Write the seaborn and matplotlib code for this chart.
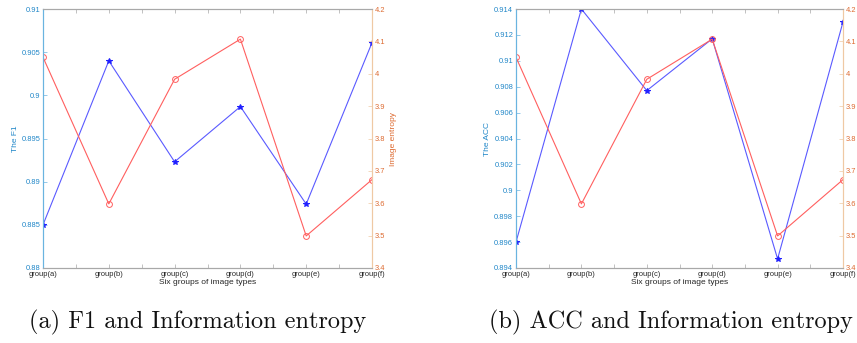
import matplotlib
matplotlib.use("Agg")
import matplotlib.pyplot as plt
import seaborn as sns
import numpy as np
import pandas as pd

groups = ["group(a)", "group(b)", "group(c)", "group(d)", "group(e)", "group(f)"]
f1 = [0.8850, 0.9040, 0.8923, 0.8987, 0.8874, 0.9061]
acc = [0.8960, 0.9140, 0.9077, 0.9117, 0.8947, 0.9130]
entropy = [4.051, 3.598, 3.983, 4.107, 3.499, 3.673]
captions = ["(a) F1 and Information entropy", "(b) ACC and Information entropy"]
left_labels = ["The F1", "The ACC"]
right_label = "Image entropy"
xlabel = "Six groups of image types"

sns.set_theme(style="white")
plt.rcParams["font.family"] = ["Liberation Sans", "DejaVu Sans"]

BLUE_TXT = "#1f86c8"
BLUE_SP = "#6ab4e0"
ORG_TXT = "#dd6a30"
ORG_SP = "#efc9a4"
GRAY = "#a8a8a8"
LINE_B = "#5a5aff"
LINE_R = "#ff5f5f"

fig = plt.figure(figsize=(8.57, 3.43), dpi=100)
positions = [(43 / 857, 0.2187, 329 / 857, 0.755), (516 / 857, 0.2187, 327 / 857, 0.755)]
caption_x = [198 / 857, 671 / 857]
lefts = [f1, acc]
ylims = [(0.88, 0.91), (0.894, 0.914)]
yticks_l = [np.arange(0.88, 0.9101, 0.005), np.arange(0.894, 0.91401, 0.002)]
x = np.arange(1, 7)


def fmt(v, d):
    return (("%." + str(d) + "f") % v).rstrip("0").rstrip(".")


for i in range(2):
    ax = fig.add_axes(positions[i])
    ax2 = ax.twinx()
    df = pd.DataFrame({"x": x, "left": lefts[i], "ent": entropy})
    sns.lineplot(data=df, x="x", y="left", ax=ax, color=LINE_B, lw=0.8,
                 marker="*", markersize=4, markeredgecolor="#2020ff", markerfacecolor="#2020ff")
    sns.lineplot(data=df, x="x", y="ent", ax=ax2, color=LINE_R, lw=0.8,
                 marker="o", markersize=4.2, markerfacecolor="none", markeredgecolor=LINE_R,
                 markeredgewidth=0.7)
    ax.set_xlim(1, 6)
    ax.set_ylim(*ylims[i])
    ax2.set_ylim(3.4, 4.2)
    ax.set_yticks(yticks_l[i])
    ax.set_yticklabels([fmt(v, 3) for v in yticks_l[i]])
    et = np.arange(3.4, 4.201, 0.1)
    ax2.set_yticks(et)
    ax2.set_yticklabels([fmt(v, 1) for v in et])
    xt = np.arange(1, 6.01, 0.5)
    ax.set_xticks(xt)
    ax.set_xticklabels([groups[int(v) - 1] if abs(v - round(v)) < 1e-6 else "" for v in xt])
    ax.set_xlabel(xlabel, fontsize=6, color="#262626", labelpad=1)
    ax.set_ylabel(left_labels[i], fontsize=6, color=BLUE_TXT, labelpad=2)
    ax2.set_ylabel(right_label, fontsize=6, color=ORG_TXT, labelpad=3)
    ax.tick_params(axis="x", direction="in", length=3, width=0.5, colors=GRAY,
                   labelcolor="#262626", labelsize=5.4, pad=2, top=True, bottom=True)
    ax.tick_params(axis="y", direction="in", length=3, width=0.5, colors=BLUE_SP,
                   labelcolor=BLUE_TXT, labelsize=5.4, pad=2, left=True, right=False)
    ax2.tick_params(axis="y", direction="in", length=3, width=0.5, colors=ORG_SP,
                    labelcolor=ORG_TXT, labelsize=5.4, pad=2, right=True, left=False)
    for a in (ax, ax2):
        for s in ("top", "bottom"):
            a.spines[s].set_color(GRAY)
            a.spines[s].set_linewidth(0.8)
        a.spines["left"].set_color(BLUE_SP)
        a.spines["right"].set_color(ORG_SP)
        a.spines["left"].set_linewidth(0.8)
        a.spines["right"].set_linewidth(0.8)
        a.grid(False)
    ax.patch.set_alpha(0)
    ax2.patch.set_alpha(0)
    fig.text(caption_x[i], 0.06, captions[i], ha="center", va="center", fontsize=17.5,
             family="cmr10", color="#111111")

fig.savefig("out.png", dpi=100)
